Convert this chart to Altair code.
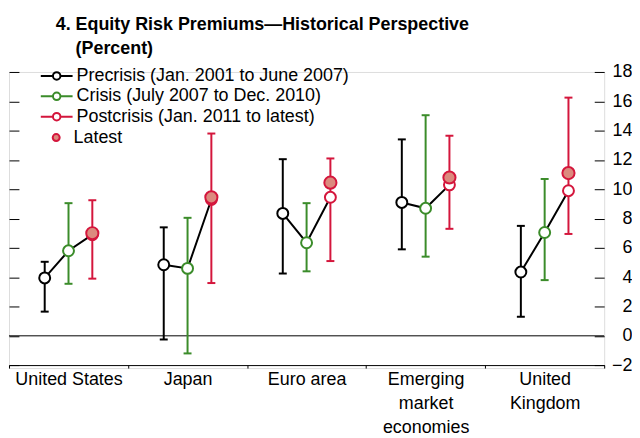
import altair as alt
import pandas as pd

FONT = "Liberation Sans, Arial, sans-serif"

categories = ["United States", "Japan", "Euro area", "Emerging market economies", "United Kingdom"]
category_label_lines = [["United States"], ["Japan"], ["Euro area"],
                        ["Emerging", "market", "economies"], ["United", "Kingdom"]]
series_names = ["Precrisis (Jan. 2001 to June 2007)",
                "Crisis (July 2007 to Dec. 2010)",
                "Postcrisis (Jan. 2011 to latest)"]
slots = ["pre", "cri", "post"]
latest_name = "Latest"

precrisis_mid = [3.95, 4.85, 8.35, 9.10, 4.35]
precrisis_lo = [1.65, -0.25, 4.25, 5.90, 1.30]
precrisis_hi = [5.05, 7.40, 12.05, 13.40, 7.50]

crisis_mid = [5.80, 4.60, 6.35, 8.70, 7.05]
crisis_lo = [3.55, -1.20, 4.40, 5.40, 3.80]
crisis_hi = [9.05, 8.05, 9.05, 15.05, 10.70]

post_mid = [6.90, 9.30, 9.45, 10.30, 9.90]
post_lo = [3.90, 3.60, 5.10, 7.30, 6.95]
post_hi = [9.25, 13.80, 12.10, 13.65, 16.25]

latest_val = [7.00, 9.45, 10.45, 10.80, 11.10]

y_ticks = [-2, 0, 2, 4, 6, 8, 10, 12, 14, 16, 18]

BLACK = "#000000"
GREEN = "#3b8c2a"
RED = "#d4163c"
SALMON = "#dc8a7e"

rows = []
for i, c in enumerate(categories):
    for j, (mid, lo, hi) in enumerate([(precrisis_mid, precrisis_lo, precrisis_hi),
                                       (crisis_mid, crisis_lo, crisis_hi),
                                       (post_mid, post_lo, post_hi)]):
        rows.append({"category": c, "series": series_names[j], "slot": slots[j],
                     "order": j, "value": mid[i], "lo": lo[i], "hi": hi[i]})
df = pd.DataFrame(rows)
df_latest = pd.DataFrame({"category": categories, "series": [latest_name] * len(categories),
                          "slot": ["post"] * len(categories), "value": latest_val})
df_zero = pd.DataFrame({"v": [0]})

# multi-line category labels
label_expr = "datum.value"
for name, lines in zip(reversed(categories), reversed(category_label_lines)):
    if len(lines) > 1:
        arr = "[" + ",".join("'" + s + "'" for s in lines) + "]"
        label_expr = f"datum.value === '{name}' ? {arr} : ({label_expr})"

x_enc = alt.X("category:N", sort=categories, title=None,
              scale=alt.Scale(domain=categories, paddingInner=0, paddingOuter=0),
              axis=alt.Axis(tickBand="extent", domain=True, domainColor="black", domainWidth=1,
                            ticks=True, tickColor="black", tickSize=3, tickWidth=1, offset=-3,
                            labelAngle=0, labelFont=FONT, labelFontSize=18, labelColor="black",
                            labelExpr=label_expr, labelLineHeight=24, labelPadding=3,
                            labelBaseline="top", labelLimit=300, grid=False))
xoff_enc = alt.XOffset("slot:N", sort=slots,
                       scale=alt.Scale(domain=slots, paddingInner=0, paddingOuter=1))
y_scale = alt.Scale(domain=[-2.2, 18], nice=False, zero=False)

stroke_scale = alt.Scale(domain=series_names, range=[BLACK, GREEN, RED])
fill_scale = alt.Scale(domain=[latest_name], range=[SALMON])

# legend symbol: short line with an open circle in the middle (units scaled by sqrt(size)/2 = 5px)
PATH = "M-3.2,0L-0.75,0M0.75,0L3.2,0M0.75,0A0.75,0.75,0,1,1,-0.75,0A0.75,0.75,0,1,1,0.75,0Z"
legend_series = alt.Legend(
    title=None, orient="none", legendX=39, legendY=-5, padding=0,
    labelFont=FONT, labelFontSize=18, labelColor="black", labelLimit=500,
    symbolSize=100, symbolStrokeWidth=2, rowPadding=2.5, labelOffset=11,
    symbolType=PATH, symbolFillColor="white", symbolOpacity=1,
)
legend_latest = alt.Legend(
    title=None, orient="none", legendX=38.5, legendY=57, padding=0,
    labelFont=FONT, labelFontSize=18, labelColor="black", labelLimit=500,
    symbolSize=49, symbolStrokeWidth=2, labelOffset=8.5,
    symbolType="circle", symbolStrokeColor=RED, symbolOpacity=1,
)

zero = alt.Chart(df_zero).mark_rule(color="black", strokeWidth=1).encode(
    y=alt.Y("v:Q", scale=y_scale, axis=None))

left_axis = alt.Axis(title=None, orient="left", labels=False, domain=False, ticks=True,
                     tickSize=10, tickWidth=1, tickColor="black", offset=-10, values=y_ticks,
                     grid=False)
right_axis = alt.Axis(title=None, orient="right", labels=True, domain=False, ticks=True,
                      tickSize=10, tickWidth=1, tickColor="black", offset=-10, values=y_ticks,
                      labelFont=FONT, labelFontSize=18, labelColor="black", labelAlign="right",
                      labelPadding=28, grid=False)

stroke_enc = alt.Stroke("series:N", scale=stroke_scale, legend=legend_series)

bars = alt.Chart(df).mark_rule(strokeWidth=2).encode(
    x=x_enc, xOffset=xoff_enc,
    y=alt.Y("lo:Q", scale=y_scale, axis=left_axis), y2="hi:Q",
    stroke=stroke_enc)

cap_lo = alt.Chart(df).mark_point(shape="stroke", size=64, strokeWidth=2, filled=False, opacity=1).encode(
    x=x_enc, xOffset=xoff_enc,
    y=alt.Y("lo:Q", scale=y_scale, axis=None),
    stroke=stroke_enc)
cap_hi = alt.Chart(df).mark_point(shape="stroke", size=64, strokeWidth=2, filled=False, opacity=1).encode(
    x=x_enc, xOffset=xoff_enc,
    y=alt.Y("hi:Q", scale=y_scale, axis=None),
    stroke=stroke_enc)

line = alt.Chart(df).mark_line(color="black", strokeWidth=2).encode(
    x=x_enc, xOffset=xoff_enc,
    y=alt.Y("value:Q", scale=y_scale, axis=None),
    detail="category:N", order="order:Q")

pts = alt.Chart(df).mark_point(shape="circle", size=121, strokeWidth=2, filled=False,
                               fill="white", fillOpacity=1, opacity=1).encode(
    x=x_enc, xOffset=xoff_enc,
    y=alt.Y("value:Q", scale=y_scale, axis=right_axis),
    stroke=stroke_enc)

latest = alt.Chart(df_latest).mark_point(shape="circle", size=150, strokeWidth=2, filled=True,
                                         stroke=RED, fillOpacity=1, opacity=1).encode(
    x=x_enc, xOffset=xoff_enc,
    y=alt.Y("value:Q", scale=y_scale, axis=None),
    fill=alt.Fill("series:N", scale=fill_scale, legend=legend_latest))

chart = alt.layer(zero, bars, cap_lo, cap_hi, line, pts, latest).resolve_axis(
    y="independent").properties(
    width=599, height=298,
    padding={"left": 0, "top": 7, "right": 0, "bottom": 0},
    title=alt.Title(text=["4. Equity Risk Premiums\u2014Historical Perspective",
                          "\u200b\u00a0\u00a0\u00a0\u00a0(Percent)"],
                    anchor="start", frame="group", dx=47, offset=5,
                    font=FONT, fontSize=18, fontWeight="bold", color="black",
                    lineHeight=24, baseline="top"),
).configure_view(stroke=None).configure(background="white")

chart.save("out.html", embed_options={"renderer": "svg", "actions": False})
